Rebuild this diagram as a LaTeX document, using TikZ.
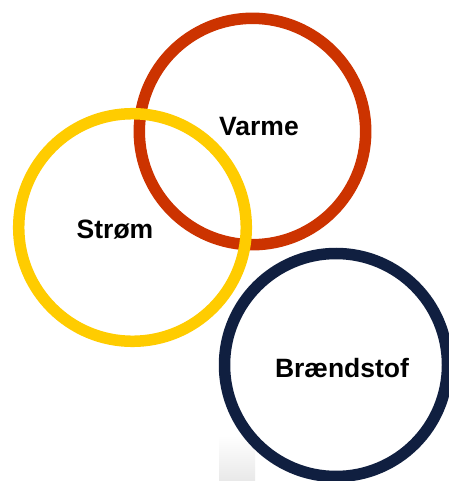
\documentclass[tikz,border=0pt]{standalone}
\usepackage{fontspec}
\setmainfont{Liberation Sans}
\definecolor{varmered}{RGB}{204,51,0}
\definecolor{stromyellow}{RGB}{255,204,0}
\definecolor{fuelnavy}{RGB}{16,31,64}
\begin{document}
\begin{tikzpicture}[x=1pt,y=-1pt,
  ring/.style={line width=11.5pt},
  lbl/.style={font=\fontsize{26.5}{29}\selectfont\bfseries, text=black, inner sep=0pt}]
\useasboundingbox (0,0) rectangle (448,481);
\fill[white] (0,0) rectangle (448,481);
% faint gray block at the bottom
\shade[top color=white, bottom color=black!9, draw=none] (219,436) rectangle (255,481);
% rings
\coordinate (cV) at (252.5,131.5);
\coordinate (cS) at (132.5,227.5);
\coordinate (cB) at (336,365);
\draw[ring, varmered] (cV) circle[radius=113.2];
\draw[ring, stromyellow] (cS) circle[radius=113.8];
\draw[ring, fuelnavy] (cB) circle[radius=111.5];
% labels
\node[lbl] (varme) at (259,127) {Varme};
\node[lbl] (strom) at (115,230) {Strøm};
\node[lbl] (braend) at (342,368) {Brændstof};
\end{tikzpicture}
\end{document}
